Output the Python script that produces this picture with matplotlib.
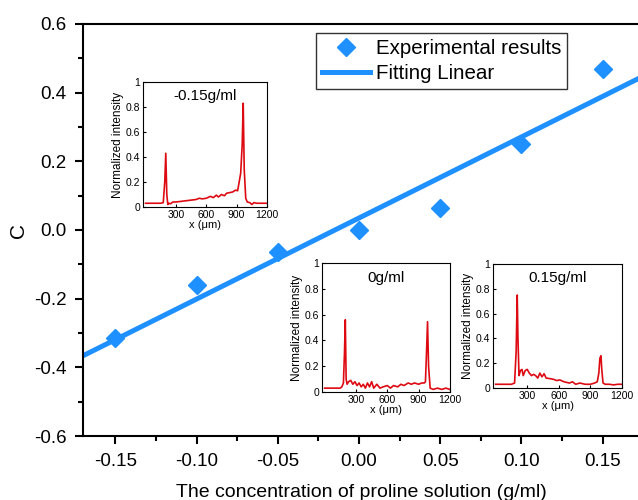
import matplotlib
matplotlib.use("Agg")
import matplotlib.pyplot as plt
import numpy as np
from matplotlib.ticker import MultipleLocator, FormatStrFormatter

plt.rcParams['font.family'] = ['Liberation Sans', 'DejaVu Sans']

# main data
conc = [-0.15, -0.10, -0.05, 0.00, 0.05, 0.10, 0.15]
c_val = [-0.315, -0.16, -0.065, 0.0, 0.065, 0.25, 0.47]

# inset spectra
x_a = [0, 50, 100, 150, 175, 190, 200, 210, 220, 230, 245, 270, 300, 350, 400, 450, 500,
       530, 560, 600, 640, 670, 700, 720, 750, 780, 800, 830, 860, 890, 910, 925, 940,
       955, 965, 975, 990, 1005, 1030, 1050, 1070, 1100, 1150, 1200]
y_a = [0.03, 0.03, 0.03, 0.03, 0.035, 0.2, 0.43, 0.1, 0.02, 0.03, 0.025, 0.04, 0.04, 0.045, 0.05, 0.055, 0.06,
       0.07, 0.065, 0.07, 0.085, 0.075, 0.095, 0.08, 0.1, 0.09, 0.11, 0.115, 0.12, 0.135, 0.13, 0.2, 0.27,
       0.5, 0.83, 0.3, 0.07, 0.04, 0.035, 0.02, 0.035, 0.03, 0.03, 0.03]

x_b = [0, 50, 100, 150, 165, 180, 190, 198, 206, 215, 230, 250, 270, 290, 310, 330, 350, 370, 390,
       410, 430, 450, 470, 500, 530, 560, 600, 630, 660, 700, 730, 760, 800, 830, 860, 900, 930,
       955, 965, 975, 985, 995, 1010, 1040, 1080, 1120, 1160, 1200]
y_b = [0.03, 0.03, 0.03, 0.03, 0.04, 0.07, 0.3, 0.56, 0.1, 0.06, 0.08, 0.09, 0.06, 0.08, 0.05, 0.07, 0.04, 0.06, 0.03,
       0.07, 0.04, 0.08, 0.03, 0.06, 0.03, 0.04, 0.05, 0.03, 0.05, 0.04, 0.06, 0.05, 0.07, 0.06, 0.07, 0.06, 0.07,
       0.07, 0.08, 0.3, 0.545, 0.2, 0.03, 0.02, 0.03, 0.02, 0.03, 0.02]

x_c = [0, 50, 100, 150, 180, 195, 205, 212, 222, 235, 250, 262, 280, 300, 320, 340, 360, 380, 400,
       420, 440, 460, 480, 520, 550, 580, 610, 650, 700, 730, 760, 800, 850, 900, 940, 965, 980,
       990, 1000, 1008, 1020, 1040, 1080, 1120, 1160, 1200]
y_c = [0.03, 0.03, 0.03, 0.03, 0.04, 0.3, 0.75, 0.4, 0.1, 0.14, 0.15, 0.1, 0.14, 0.15, 0.12, 0.1, 0.11, 0.1, 0.08,
       0.12, 0.09, 0.115, 0.08, 0.075, 0.07, 0.06, 0.065, 0.05, 0.04, 0.05, 0.03, 0.04, 0.03, 0.03, 0.04, 0.05, 0.12,
       0.24, 0.26, 0.15, 0.04, 0.03, 0.03, 0.025, 0.03, 0.03]

blue = '#1E90FF'
red = '#DD0A12'

fig = plt.figure(figsize=(6.38, 5), dpi=100)
ax = fig.add_axes([83/638, 64/500, 557/638, 412/500])

# linear fit of the experimental points
k, b = np.polyfit(conc, c_val, 1)
xx = np.array([-0.17, 0.173])
ax.plot(xx, k*xx + b, color=blue, lw=3.6, label='Fitting Linear', zorder=2)
ax.plot(conc, c_val, 'D', color=blue, ms=9.5, label='Experimental results', zorder=3)

ax.set_xlim(-0.17, 0.173)
ax.set_ylim(-0.6, 0.6)
ax.xaxis.set_major_locator(MultipleLocator(0.05))
ax.xaxis.set_minor_locator(MultipleLocator(0.025))
ax.yaxis.set_major_locator(MultipleLocator(0.2))
ax.yaxis.set_minor_locator(MultipleLocator(0.1))
ax.xaxis.set_major_formatter(FormatStrFormatter('%.2f'))
ax.yaxis.set_major_formatter(FormatStrFormatter('%.1f'))
ax.tick_params(which='major', length=6, width=1.5, labelsize=13.5, direction='out', pad=6)
ax.tick_params(which='minor', length=3.5, width=1.5, direction='out')
for s in ax.spines.values():
    s.set_linewidth(1.5)
ax.set_xlabel('The concentration of proline solution (g/ml)', fontsize=14, labelpad=10)
ax.set_ylabel('C', fontsize=15, labelpad=4)

h, l = ax.get_legend_handles_labels()
leg = ax.legend(h[::-1], l[::-1], loc='upper left', bbox_to_anchor=(316/638, 1-33/500),
                bbox_transform=fig.transFigure, fontsize=14.8, frameon=True, fancybox=False,
                handlelength=2.35, handletextpad=0.25, borderpad=0.3, labelspacing=0.27,
                borderaxespad=0)
leg.get_frame().set_edgecolor('black')
leg.get_frame().set_linewidth(1.0)


def inset(rect, xs, ys, title):
    a = fig.add_axes(rect)
    a.plot(xs, ys, color=red, lw=1.2)
    a.set_xlim(-25, 1200)
    a.set_ylim(0, 1)
    a.set_xticks([300, 600, 900, 1200])
    a.set_yticks([0, 0.2, 0.4, 0.6, 0.8, 1.0])
    a.set_yticklabels(['0', '0.2', '0.4', '0.6', '0.8', '1'])
    a.tick_params(labelsize=7.5, length=2.5, width=0.8, pad=2, direction='in')
    for s in a.spines.values():
        s.set_linewidth(0.8)
    a.set_xlabel('x (\u03bcm)', fontsize=8, labelpad=0)
    a.set_ylabel('Normalized intensity', fontsize=8.5, labelpad=1)
    a.text(0.5, 0.94, title, transform=a.transAxes, ha='center', va='top', fontsize=11)
    return a


inset([143/638, 1-207/500, 124/638, 125/500], x_a, y_a, '-0.15g/ml')
inset([322/638, 1-392/500, 128/638, 129/500], x_b, y_b, '0g/ml')
inset([493/638, 1-388/500, 129/638, 124/500], x_c, y_c, '0.15g/ml')

fig.savefig('out.png', dpi=100)
